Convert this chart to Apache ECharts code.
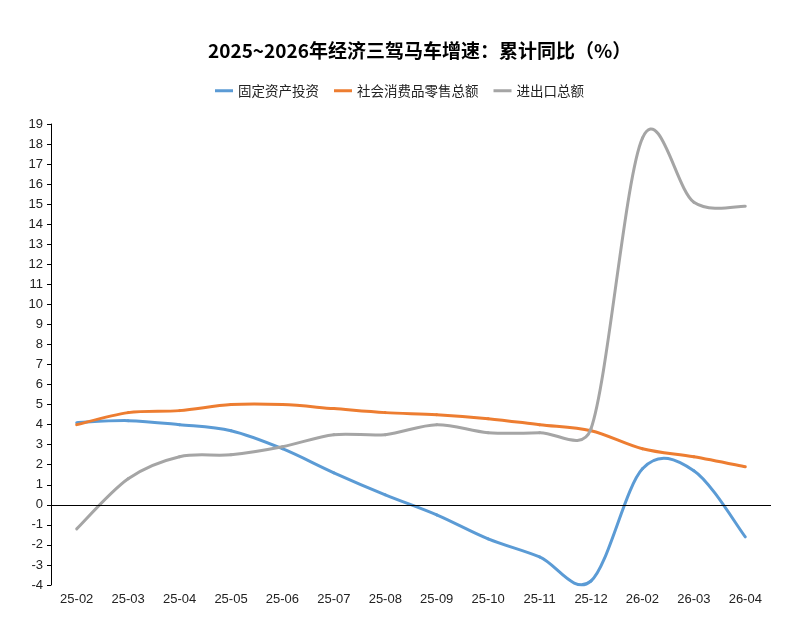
<!DOCTYPE html>
<html>
<head>
<meta charset="utf-8">
<title>2025~2026年经济三驾马车增速</title>
<script src="https://cdn.jsdelivr.net/npm/echarts@6/dist/echarts.min.js"></script>
<style>
    html, body { margin: 0; padding: 0; background: #fff; }
    #main { width: 801px; height: 636px; }
</style>
</head>
<body>
<div id="main"></div>
<script>
    // 月份
    var months = ['25-02','25-03','25-04','25-05','25-06','25-07','25-08','25-09','25-10','25-11','25-12','26-02','26-03','26-04'];
    // 累计同比（%）
    var fai    = [4.1, 4.2, 4.0, 3.7, 2.8, 1.6, 0.5, -0.5, -1.7, -2.6, -3.8, 1.8, 1.7, -1.6];
    var retail = [4.0, 4.6, 4.7, 5.0, 5.0, 4.8, 4.6, 4.5, 4.3, 4.0, 3.7, 2.8, 2.4, 1.9];
    var trade  = [-1.2, 1.3, 2.4, 2.5, 2.9, 3.5, 3.5, 4.0, 3.6, 3.6, 3.8, 18.3, 15.1, 14.9];

    var font = '"Liberation Sans", Arial, "Noto Sans CJK SC", sans-serif';
    var cjk = '"Noto Sans CJK SC", sans-serif';
    var myChart = echarts.init(document.getElementById('main'));

    // 控制点偏移，长度不超过本段长度的一半
    function capped(dx, dy, segLen) {
        var len = Math.sqrt(dx * dx + dy * dy);
        var k = len > segLen / 2 ? (segLen / 2) / len : 1;
        return [dx * k, dy * k];
    }

    // Excel式平滑曲线：每段用 Catmull-Rom 控制点画三次贝塞尔，坐标全部经 api.coord 换算
    function smoothLine(name, arr, color) {
        return {
            name: name,
            type: 'custom',
            coordinateSystem: 'cartesian2d',
            data: arr.map(function (v, i) { return [i, v]; }),
            encode: { x: 0, y: 1 },
            itemStyle: { color: color },
            silent: true,
            renderItem: function (params, api) {
                var i = params.dataIndex;
                var n = arr.length;
                if (i >= n - 1) return null;
                var a = Math.max(i - 1, 0), d = Math.min(i + 2, n - 1);
                var p0 = api.coord([a, arr[a]]);
                var p1 = api.coord([i, arr[i]]);
                var p2 = api.coord([i + 1, arr[i + 1]]);
                var p3 = api.coord([d, arr[d]]);
                var seg = Math.sqrt(Math.pow(p2[0] - p1[0], 2) + Math.pow(p2[1] - p1[1], 2));
                var c1 = capped((p2[0] - p0[0]) / 6, (p2[1] - p0[1]) / 6, seg);
                var c2 = capped((p3[0] - p1[0]) / 6, (p3[1] - p1[1]) / 6, seg);
                return {
                    type: 'bezierCurve',
                    shape: {
                        x1: p1[0], y1: p1[1],
                        cpx1: p1[0] + c1[0], cpy1: p1[1] + c1[1],
                        cpx2: p2[0] - c2[0], cpy2: p2[1] - c2[1],
                        x2: p2[0], y2: p2[1]
                    },
                    style: { stroke: color, lineWidth: 3, fill: null, lineCap: 'round' }
                };
            }
        };
    }

    var series = [
        smoothLine('固定资产投资', fai, '#5B9BD5'),
        smoothLine('社会消费品零售总额', retail, '#ED7D31'),
        smoothLine('进出口总额', trade, '#A5A5A5'),
        {
            // 零轴
            name: 'zero',
            type: 'line',
            data: [],
            markLine: {
                silent: true,
                symbol: 'none',
                label: { show: false },
                lineStyle: { color: '#000', width: 1, type: 'solid' },
                data: [{ yAxis: 0 }]
            }
        }
    ];

    myChart.setOption({
        animation: false,
        title: {
            text: '2025~2026年经济三驾马车增速：累计同比（%）',
            left: 203,
            top: 36,
            textStyle: { fontSize: 19, fontWeight: 'bold', color: '#000', fontFamily: cjk }
        },
        legend: {
            top: 79,
            left: 210,
            itemWidth: 18,
            itemHeight: 3,
            itemGap: 15,
            icon: 'rect',
            textStyle: { fontSize: 13.5, color: '#222', fontFamily: cjk },
            data: ['固定资产投资', '社会消费品零售总额', '进出口总额']
        },
        grid: { left: 51, right: 30, top: 124, bottom: 51 },
        xAxis: {
            type: 'category',
            data: months,
            boundaryGap: true,
            axisLine: { show: false, onZero: false },
            axisTick: { show: false },
            axisLabel: { color: '#222', fontSize: 13, margin: 8, fontFamily: font }
        },
        yAxis: {
            type: 'value',
            min: -4,
            max: 19,
            interval: 1,
            axisLine: { show: true, lineStyle: { color: '#000', width: 1 } },
            axisTick: { show: true, length: 4, lineStyle: { color: '#000' } },
            splitLine: { show: false },
            axisLabel: { color: '#222', fontSize: 13, margin: 8, fontFamily: font }
        },
        series: series
    });
</script>
</body>
</html>
